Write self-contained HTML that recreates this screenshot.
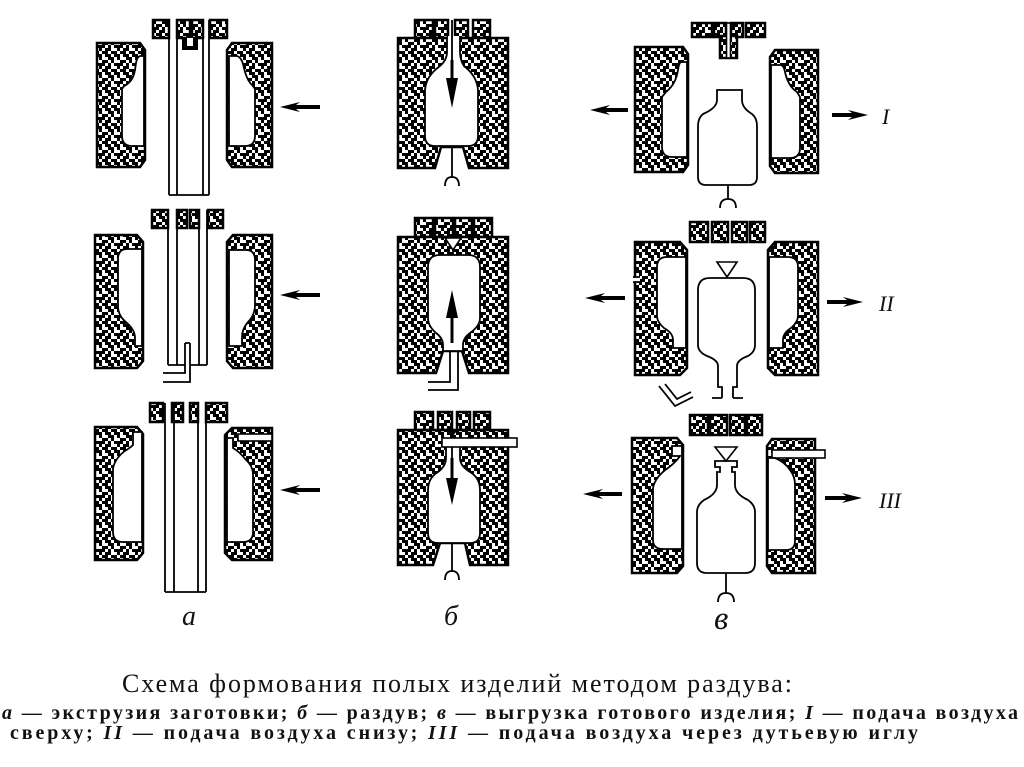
<!DOCTYPE html>
<html>
<head>
<meta charset="utf-8">
<style>
html,body{margin:0;padding:0;background:#fff;}
svg{display:block;}
.m{fill:url(#sp);stroke:#000;stroke-width:2.5;stroke-linejoin:miter;}
.c{fill:#fff;stroke:#000;stroke-width:1.8;}
.l{fill:none;stroke:#000;stroke-width:1.8;}
.w{fill:#fff;stroke:#000;stroke-width:1.6;}
.lbl{font-family:"Liberation Serif",serif;font-style:italic;fill:#111;}
.cap{font-family:"Liberation Serif","Noto Serif CJK SC",serif;fill:#111;}
</style>
</head>
<body>
<svg width="1024" height="767" viewBox="0 0 1024 767" xmlns="http://www.w3.org/2000/svg">
<defs>
<pattern id="sp" width="18" height="18" patternUnits="userSpaceOnUse">
<rect width="18" height="18" fill="#fff"/>
<path fill="#000" d="M0 0h3v3h-3z M6 0h3v3h-3z M9 0h3v3h-3z M15 0h3v3h-3z
M0 3h3v3h-3z M3 3h3v3h-3z M9 3h3v3h-3z
M3 6h3v3h-3z M12 6h3v3h-3z M15 6h3v3h-3z
M0 9h3v3h-3z M6 9h3v3h-3z M9 9h3v3h-3z M12 9h3v3h-3z
M0 12h3v3h-3z M9 12h3v3h-3z M15 12h3v3h-3z
M3 15h3v3h-3z M6 15h3v3h-3z M12 15h3v3h-3z M15 15h3v3h-3z"/>
</pattern>
</defs>

<!-- ================= COLUMN A ================= -->
<!-- row 1 -->
<path class="m" d="M97,43 H140 L145,50 V160 L140,167 H97 Z"/>
<path class="c" d="M144,56 H140 Q137,57 136,63 L135,70 Q133,82 124,86 L122,89 V136 Q122,146 132,146 H144 Z"/>
<path class="m" d="M232,43 H272 V167 H232 L227,160 V50 Z"/>
<path class="c" d="M229,56 H237 Q241,57 243,64 L245,72 Q248,82 253,86 L255,89 V136 Q255,146 245,146 H229 Z"/>
<rect class="m" x="153" y="20" width="16" height="18"/>
<rect class="m" x="177" y="20" width="13" height="18"/>
<rect class="m" x="192" y="20" width="11" height="18"/>
<rect class="m" x="210" y="20" width="17" height="18"/>
<path class="l" d="M169,20 V195 M177,20 V195 M203,20 V195 M209,20 V195 M169,195 H209"/>
<path d="M182,38 H198 V50 H182 Z" fill="#000"/>
<rect x="187" y="38" width="6" height="8" fill="#fff"/>
<polygon points="280,107 300,102 296,105 320,105 320,109 296,109 300,112" fill="#000"/>

<!-- row 2 -->
<path class="m" d="M95,235 H137 L143,242 V361 L137,368 H95 Z"/>
<path class="c" d="M142,249 H127 Q118,249 118,259 V306 Q118,316 127,323 Q135,330 135,338 V346 H142 Z"/>
<path class="m" d="M233,235 H272 V368 H233 L227,361 V242 Z"/>
<path class="c" d="M229,250 H246 Q255,250 255,260 V305 Q255,315 248,322 Q242,329 242,337 V346 H229 Z"/>
<rect class="m" x="152" y="210" width="16" height="18"/>
<rect class="m" x="177" y="210" width="10" height="18"/>
<rect class="m" x="190" y="210" width="9" height="18"/>
<rect class="m" x="208" y="210" width="15" height="18"/>
<path class="l" d="M168,210 V365 M177,210 V365 M199,210 V365 M207,210 V365 M168,365 H185 M190,365 H207"/>
<path class="l" d="M185,343 V373 H163 M190,343 V382 H163 M185,343 H190"/>
<polygon points="280,295 300,290 296,293 320,293 320,297 296,297 300,300" fill="#000"/>

<!-- row 3 -->
<path class="m" d="M95,427 H137 L143,434 V553 L137,560 H95 Z"/>
<path class="c" d="M142,432 H133 V445 Q131,447 128,449 Q116,456 113,468 V532 Q113,542 123,542 H142 Z"/>
<path class="m" d="M232,428 H272 V560 H232 L225,553 V435 Z"/>
<rect class="w" x="238" y="434" width="34" height="7"/>
<path class="c" d="M227,438 H233 V448 Q240,452 246,460 Q253,466 253,475 V532 Q253,542 243,542 H227 Z"/>
<rect class="m" x="150" y="403" width="13" height="19"/>
<rect class="m" x="172" y="403" width="11" height="19"/>
<rect class="m" x="190" y="403" width="8" height="19"/>
<rect class="m" x="206" y="403" width="21" height="19"/>
<path class="l" d="M165,403 V592 M174,403 V592 M198,403 V592 M206,403 V592 M165,592 H206"/>
<polygon points="280,490 300,485 296,488 320,488 320,492 296,492 300,495" fill="#000"/>
<text class="lbl" x="182" y="625" font-size="28">а</text>

<!-- ================= COLUMN Б ================= -->
<!-- row 1 -->
<rect class="m" x="415" y="20" width="18" height="18"/>
<rect class="m" x="435" y="20" width="13" height="18"/>
<rect class="m" x="455" y="20" width="13" height="18"/>
<rect class="m" x="473" y="20" width="17" height="18"/>
<path class="m" d="M398,38 H508 V168 H469 L463,147 H441 L435,168 H398 Z"/>
<path class="c" d="M447,37 V52 Q447,60 440,66 Q426,76 425,90 V136 Q425,146 435,146 H468 Q478,146 478,136 V90 Q477,76 464,66 Q460,60 460,52 V37"/>
<rect x="448" y="36" width="11" height="4" fill="#fff"/>
<path class="l" d="M452,20 V60"/>
<path d="M450.5,60 H453.5 V80 H450.5 Z" fill="#000"/>
<polygon points="446,78 458,78 452,108" fill="#000"/>
<path class="l" d="M452,147 V178 M445,186 Q445,177 452,177 Q459,177 459,186"/>

<!-- row 2 -->
<rect class="m" x="415" y="218" width="18" height="19"/>
<rect class="m" x="435" y="218" width="18" height="19"/>
<rect class="m" x="455" y="218" width="17" height="19"/>
<rect class="m" x="474" y="218" width="18" height="19"/>
<path class="m" d="M398,237 H508 V373 H469 L462,351 H443 L436,373 H398 Z"/>
<polygon class="w" points="445,238 461,238 453,250"/>
<path class="l" d="M453,250 V256"/>
<path class="c" d="M440,255 H468 Q480,255 480,267 V318 Q480,326 470,333 Q463,338 463,345 V351 H443 V345 Q443,338 436,333 Q428,326 428,318 V267 Q428,255 440,255 Z"/>
<path class="l" d="M450,351 V382 H428 M458,351 V390 H428"/>
<path d="M450.5,343 H453.5 V318 H450.5 Z" fill="#000"/>
<polygon points="446,318 458,318 452,290" fill="#000"/>

<!-- row 3 -->
<rect class="m" x="415" y="412" width="18" height="18"/>
<rect class="m" x="438" y="412" width="14" height="18"/>
<rect class="m" x="457" y="412" width="13" height="18"/>
<rect class="m" x="474" y="412" width="16" height="18"/>
<path class="m" d="M398,430 H508 V565 H470 L465,543 H440 L433,565 H398 Z"/>
<path class="c" d="M446,446 V458 Q446,466 438,472 Q428,478 428,490 V533 Q428,543 438,543 H470 Q480,543 480,533 V490 Q480,478 470,472 Q460,466 460,458 V446"/>
<rect class="w" x="442" y="438" width="75" height="9"/>
<polygon points="447,431 457,431 452,437" fill="#000"/>
<path class="l" d="M452,447 V458"/>
<path d="M450.5,458 H453.5 V478 H450.5 Z" fill="#000"/>
<polygon points="446,478 458,478 452,505" fill="#000"/>
<path class="l" d="M452,544 V572 M445,580 Q445,571 452,571 Q459,571 459,580"/>
<text class="lbl" x="444" y="625" font-size="28">б</text>

<!-- ================= COLUMN В ================= -->
<!-- row 1 -->
<rect class="m" x="692" y="23" width="20" height="14"/>
<rect class="m" x="714" y="23" width="12" height="14"/>
<rect class="m" x="731" y="23" width="12" height="14"/>
<rect class="m" x="746" y="23" width="19" height="14"/>
<rect class="m" x="720" y="36" width="17" height="22"/>
<rect class="w" x="726.5" y="23" width="4" height="35"/>
<path class="m" d="M635,47 H683 L688,54 V165 L683,172 H635 Z"/>
<path class="c" d="M687,62 H681 Q679,63 678,70 Q676,84 666,92 L662,97 V147 Q662,157 672,157 H687 Z"/>
<path class="m" d="M775,50 H818 V173 H775 L770,166 V57 Z"/>
<path class="c" d="M771,65 H781 Q784,66 785,72 Q788,86 797,92 L800,97 V148 Q800,158 790,158 H771 Z"/>
<path class="l" stroke-width="2.2" d="M717,90 H742 V100 Q742,108 752,114 Q757,118 757,126 V177 Q757,185 749,185 H706 Q698,185 698,177 V126 Q698,118 703,114 Q717,108 717,100 Z"/>
<path class="l" d="M728,185 V199 M720,208 Q720,199 728,199 Q736,199 736,208"/>
<polygon points="590,110 610,105 606,108 628,108 628,112 606,112 610,115" fill="#000"/>
<polygon points="868,115 848,110 852,113 832,113 832,117 852,117 848,120" fill="#000"/>
<text class="lbl" x="882" y="124" font-size="22">I</text>

<!-- row 2 -->
<rect class="m" x="690" y="222" width="18" height="20"/>
<rect class="m" x="712" y="222" width="16" height="20"/>
<rect class="m" x="732" y="222" width="15" height="20"/>
<rect class="m" x="750" y="222" width="15" height="20"/>
<path class="m" d="M635,242 H680 L687,250 V368 L680,375 H635 Z"/>
<rect x="633" y="277" width="7" height="5" fill="#fff"/>
<path class="l" d="M633,277 H640 M633,282 H640"/>
<path class="c" d="M686,257 H667 Q657,257 657,267 V316 Q657,322 664,328 Q673,333 673,340 V348 H686 Z"/>
<path class="m" d="M775,242 H818 V375 H775 L768,368 V250 Z"/>
<path class="c" d="M769,257 H788 Q798,257 798,267 V316 Q798,322 791,328 Q783,333 783,340 V348 H769 Z"/>
<polygon class="w" points="717,262 737,262 727,277"/>
<path class="l" stroke-width="2.2" d="M722,398 V387 H718 V366 Q718,360 707,356 Q698,352 698,345 V290 Q698,278 710,278 H743 Q755,278 755,290 V345 Q755,352 748,356 Q737,360 737,366 V387 H733 V398"/>
<path class="l" d="M712,398 H722 M733,398 H743"/>
<path class="l" d="M659,386 L675,406 L693,397 M665,384 L677,399 L691,392"/>
<polygon points="585,298 605,293 601,296 625,296 625,300 601,300 605,303" fill="#000"/>
<polygon points="863,302 843,297 847,300 827,300 827,304 847,304 843,307" fill="#000"/>
<text class="lbl" x="879" y="311" font-size="22">II</text>

<!-- row 3 -->
<rect class="m" x="690" y="415" width="18" height="20"/>
<rect class="m" x="710" y="415" width="17" height="20"/>
<rect class="m" x="730" y="415" width="15" height="20"/>
<rect class="m" x="747" y="415" width="15" height="20"/>
<path class="m" d="M632,438 H677 L683,445 V566 L677,573 H632 Z"/>
<path class="c" d="M682,446 H672 V456 H680 Q676,462 668,468 Q655,477 653,488 V540 Q653,549 663,549 H682 Z"/>
<path class="m" d="M772,439 H815 V573 H772 L767,566 V446 Z"/>
<rect class="w" x="772" y="450" width="53" height="8"/>
<path class="c" d="M768,458 H775 Q785,462 790,470 Q795,476 795,485 V541 Q795,550 786,550 H768 Z"/>
<polygon class="w" points="715,447 737,447 726,461"/>
<path class="l" stroke-width="2.2" d="M720,467 H715 V461 H737 V467 H732 V472 H735 V485 Q735,494 748,500 Q755,505 755,512 V563 Q755,573 745,573 H707 Q697,573 697,563 V512 Q697,505 704,500 Q717,494 717,485 V472 H720 Z"/>
<path class="l" d="M726,573 V593 M718,602 Q718,593 726,593 Q734,593 734,602"/>
<polygon points="583,494 603,489 599,492 622,492 622,496 599,496 603,499" fill="#000"/>
<polygon points="862,498 842,493 846,496 825,496 825,500 846,500 842,503" fill="#000"/>
<text class="lbl" x="879" y="508" font-size="22">III</text>
<text class="lbl" x="714" y="629" font-size="33">в</text>

<!-- ================= CAPTION ================= -->
<text class="cap" x="122" y="692" font-size="26" textLength="670" lengthAdjust="spacing">Схема формования полых изделий методом раздува:</text>
<text class="cap" x="2" y="719" font-size="20" font-weight="bold" textLength="1016" lengthAdjust="spacing"><tspan font-style="italic">а</tspan> — экструзия заготовки; <tspan font-style="italic">б</tspan> — раздув; <tspan font-style="italic">в</tspan> — выгрузка готового изделия; <tspan font-style="italic">I</tspan> — подача воздуха</text>
<text class="cap" x="10" y="739" font-size="20" font-weight="bold" textLength="908" lengthAdjust="spacing">сверху; <tspan font-style="italic">II</tspan> — подача воздуха снизу; <tspan font-style="italic">III</tspan> — подача воздуха через дутьевую иглу</text>
</svg>
</body>
</html>
